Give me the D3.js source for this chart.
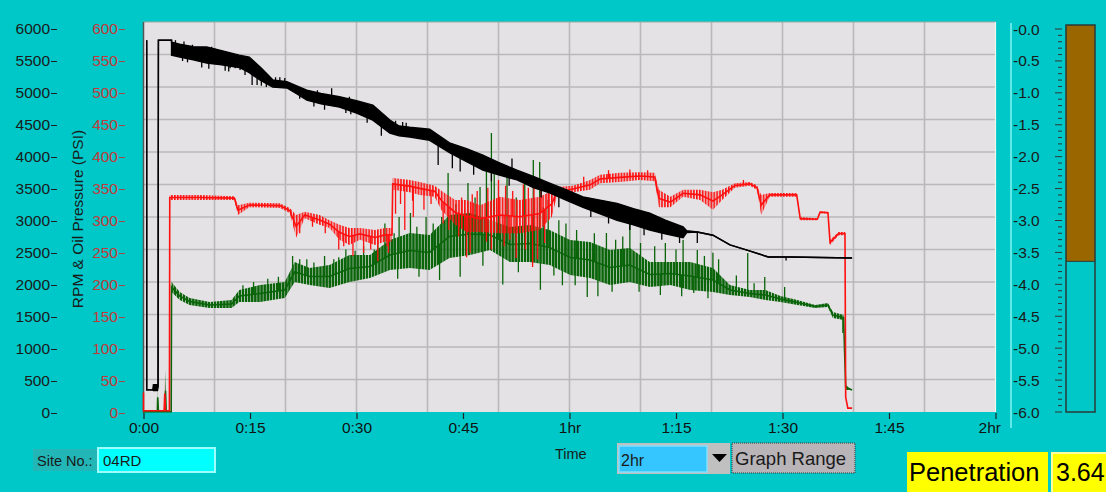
<!DOCTYPE html>
<html><head><meta charset="utf-8">
<script src="https://cdn.jsdelivr.net/npm/d3@7"></script>
<style>
html,body{margin:0;padding:0;background:#00c8c8;overflow:hidden;}
svg{display:block;font-family:"Liberation Sans",Arial,sans-serif;}
</style></head><body>
<svg id="c" width="1106" height="492"></svg>
<script>
// ---------- tick data ----------
const timeTicks  = [0,15,30,45,60,75,90,105,120];
const timeLabels = ["0:00","0:15","0:30","0:45","1hr","1:15","1:30","1:45","2hr"];
const rpmTicks   = [0,500,1000,1500,2000,2500,3000,3500,4000,4500,5000,5500,6000];
const psiTicks   = [0,50,100,150,200,250,300,350,400,450,500,550,600];
const penTicks   = [0,-0.5,-1,-1.5,-2,-2.5,-3,-3.5,-4,-4.5,-5,-5.5,-6];
const penetration = 3.64;
const siteNo = "04RD";
const graphRange = "2hr";

// ---------- black series (RPM, 0-6000) : time (min), band low, band high ----------
const blackT  = [0.45,0.45,1.3,1.4,1.97,2.05,2.1,3.95,3.95,5.1,7.0,8.9,11.0,13.5,14.9,16.5,18.2,20.2,21.5,23.0,25.0,27.6,30.0,32.3,34.7,36.0,37.5,40.3,43.1,45.5,47.8,50.0,52.6,55.0,57.2,59.5,61.9,64.3,66.7,69.0,71.3,73.5,76.0,76.5,78.0,80.2,82.6,85.0,88.0,91.1,99.8];
const blackLo = [5720,340,340,330,330,380,5720,5720,5490,5460,5420,5370,5340,5300,5220,5100,5000,4985,4900,4800,4740,4690,4600,4490,4290,4250,4230,4180,3990,3850,3720,3650,3570,3450,3370,3260,3150,3050,2950,2880,2800,2740,2680,2760,2770,2720,2570,2490,2385,2385,2370];
const blackHi = [5720,340,340,420,420,380,5720,5720,5690,5660,5620,5615,5560,5490,5460,5300,5110,5080,5020,4950,4900,4850,4790,4720,4490,4400,4380,4350,4140,4050,3950,3840,3720,3620,3520,3420,3310,3260,3210,3130,3060,2950,2850,2790,2770,2720,2570,2490,2385,2385,2370];
const blackSpikeT = [4.5,5.5,5.7,6.2,6.9,7.5,8.2,9.2,9.6,10.1,10.5,11.5,12.0,12.2,12.9,13.6,14.3,15.3,16.0,16.6,17.3,18.6,19.2,19.9,22.0,24.0,24.5,25.5,26.5,28.5,29.0,29.2,31.5,33.5,35.5,36.5,37.0,41.5,43.5,44.6,46.5,49.0,51.5,51.9,56.0,58.5,63.0,65.5,68.5,70.5,73.0,75.5,78.0,90.5];
const blackSpikeV = [5720,5400,5700,5380,5650,5600,5300,5280,5620,5590,5570,5250,5240,5290,5290,5260,5185,5030,5030,5020,5000,5150,5150,5140,4820,4700,4950,4650,4980,4600,4850,4580,4450,4250,4480,4460,4450,3800,3750,3700,3650,3550,3480,3900,3300,3150,3000,2900,2800,2720,2650,2600,2600,2330];

// ---------- green series (0-6000) ----------
const greenT  = [0,1.95,2.0,2.1,3.0,3.1,3.2,3.9,3.95,5.1,6.5,9.3,12.4,13.5,16.4,19.9,21.3,23.4,26.2,29.0,31.9,34.7,37.5,40.3,43.1,46.0,48.8,51.6,54.4,57.2,60.1,62.9,65.7,68.5,71.3,74.2,77.0,80.2,82.6,85.4,87.6,89.7,92.1,94.6,96.4,97.1,98.6,98.9,99.8];
const greenLo = [5,5,5,5,5,5,5,5,1846,1723,1646,1600,1600,1692,1692,1754,2000,1954,1908,2000,2062,2185,2215,2185,2369,2415,2492,2308,2308,2262,2108,2062,1954,2000,1923,1954,1877,1846,1800,1769,1723,1692,1646,1600,1615,1446,1415,338,338];
const greenHi = [5,5,450,5,5,650,5,5,2000,1846,1754,1692,1723,1877,1954,2000,2308,2215,2262,2415,2415,2646,2754,2723,3031,3062,2954,2846,2877,2800,2646,2615,2492,2523,2308,2308,2308,2215,1954,1877,1877,1785,1723,1646,1677,1538,1492,415,338];
const greenSpikeT = [14.0,15.5,17.5,19.0,21.0,22.0,23.0,24.0,25.5,26.8,27.5,28.5,29.8,31.0,32.5,33.0,34.0,35.3,36.0,37.6,38.5,39.8,40.8,42.0,42.9,44.0,45.7,46.7,47.4,48.3,49.0,49.4,50.0,51.2,52.5,53.7,54.9,55.8,56.3,57.0,58.5,59.5,61.0,63.5,65.2,66.5,67.5,68.5,70.0,72.0,73.5,75.0,76.0,78.0,79.0,80.2,81.0,83.5,85.1,86.0,87.5,90.3,
                     35.8,38.8,41.7,44.6,47.8,50.6,52.8,55.9,57.8,59.0,60.8,62.5,64.0,66.0,69.8,72.8,75.8,77.5,79.5,98.5];
const greenSpikeV = [1950,2000,2050,2080,2400,2350,2350,2300,2400,2350,2380,2500,2480,2550,2500,2600,2900,2750,3000,3062,2850,3000,2900,3000,3677,3200,3523,3300,3462,3723,4292,3769,3200,3677,3300,3523,3877,3846,3150,3262,2950,2900,2800,2750,2754,2650,2700,2908,2600,2550,2600,2500,2646,2492,2400,2450,2350,2100,2446,1980,2077,1923,
                     2050,2080,2031,2080,2250,1960,2150,1880,2100,1950,1950,1769,1780,1850,1850,1800,1780,1830,1750,1215];

// ---------- red series (oil pressure, 0-600 PSI) ----------
const redT  = [0,0,2.9,3.0,3.1,3.65,3.7,7.9,12.8,13.3,14.9,19.2,20.6,21.5,22.7,24.8,26.2,27.6,29.0,30.5,32.6,34.0,35.0,35.1,37.5,38.9,41.0,42.0,43.9,45.5,47.4,50.2,53.0,55.8,57.5,58.2,60.5,62.9,64.3,67.1,69.9,72.0,72.6,74.2,76.0,78.4,80.2,81.5,83.3,85.4,86.4,87.0,88.2,92.0,92.5,94.9,95.3,96.4,96.7,97.9,98.8,98.9,99.2,99.8];
const redLo = [30,2,2,2,2,2,326,326,326,303,315,314,306,268,298,288,283,265,257,265,257,262,262,342,338,334,331,310,288,277,277,275,275,280,300,331,338,342,352,354,357,355,315,315,331,326,311,326,345,348,342,303,331,331,295,295,306,305,257,272,272,23,6,6];
const redHi = [30,2,2,55,2,2,334,334,332,318,322,321,314,303,308,303,295,288,283,283,280,283,283,360,357,354,348,340,326,326,318,331,326,331,340,346,348,357,365,368,369,368,342,331,342,342,338,342,352,354,349,334,337,337,300,298,309,308,265,277,277,23,6,6];
const redSpikeT = [22.0,23.8,25.6,27.5,28.2,29.5,31.0,32.0,33.0,34.3,34.5,35.5,36.2,36.8,37.9,38.0,39.5,40.5,42.2,43.0,44.4,45.5,46.0,48.3,49.0,50.8,51.6,52.5,53.8,54.8,55.5,56.5,
                   44.8,46.3,47.0,48.5,50.0,51.0,52.0,53.5,54.2,55.0,56.0,57.0,62.0,65.5,68.5,71.0,84.5];
const redSpikeV = [275,285,275,250,255,240,245,250,232,255,245,305,320,280,325,300,311,320,290,280,270,238,245,262,250,255,265,237,250,223,235,260,
                   330,335,340,345,357,348,340,350,345,355,345,350,362,372,373,372,357];

// ---------- scales ----------
const svg = d3.select("#c");
const X0 = 143.5, X1 = 995.5, Y0 = 22, Y1 = 412;
const x   = d3.scaleLinear([0,120],[X0,X1]);
const y   = d3.scaleLinear([0,6000],[Y1,Y0]);     // data
const yp  = d3.scaleLinear([0,600],[Y1,Y0]);      // psi data
const yL  = d3.scaleLinear([0,6000],[413,29]);    // rpm tick labels
const ypL = d3.scaleLinear([0,600],[413,29]);     // psi tick labels
const rS  = d3.scaleLinear([0,-6],[29,412]);      // penetration scale

// ---------- patterns (vertical hatching for noisy bands) ----------
const defs = svg.append("defs");
function hatch(id, color, w, gap) {
  const p = defs.append("pattern").attr("id",id).attr("patternUnits","userSpaceOnUse")
    .attr("width",w+gap).attr("height",10);
  p.append("rect").attr("x",0).attr("y",0).attr("width",w).attr("height",10).attr("fill",color);
}
hatch("hGreen","#0a640a",2.5,0.6);
hatch("hRed","#ff1010",1.7,1.2);

// ---------- plot background & grid ----------
svg.append("rect").attr("x",X0).attr("y",Y0).attr("width",X1-X0).attr("height",Y1-Y0).attr("fill","#e4e2e4");
const g = svg.append("g");
g.selectAll("line.vg").data(d3.range(10,120,10)).join("line")
  .attr("x1",d=>x(d)).attr("x2",d=>x(d)).attr("y1",Y0).attr("y2",Y1)
  .attr("stroke","#b9b9b9").attr("stroke-width",1.6);
g.selectAll("line.hg").data(d3.range(500,6000,500)).join("line")
  .attr("x1",X0).attr("x2",X1).attr("y1",d=>y(d)).attr("y2",d=>y(d))
  .attr("stroke","#b9b9b9").attr("stroke-width",1.6);
svg.append("line").attr("x1",X0).attr("x2",X1).attr("y1",Y0).attr("y2",Y0).attr("stroke","#a8a8a8").attr("stroke-width",1.2);
svg.append("line").attr("x1",X0).attr("x2",X0).attr("y1",Y0).attr("y2",Y1+1).attr("stroke","#555").attr("stroke-width",1.5);
svg.append("line").attr("x1",X1).attr("x2",X1).attr("y1",Y0).attr("y2",Y1).attr("stroke","#f4f4f4").attr("stroke-width",1.2);

// ---------- series drawing ----------
function drawSeries(T, lo, hi, sT, sV, ys, color, fill, edges) {
  const pts = T.map((t,i)=>({t, lo:lo[i], hi:hi[i]}));
  const area = d3.area().x(d=>x(d.t)).y0(d=>ys(d.lo)).y1(d=>ys(d.hi));
  const grp = svg.append("g");
  grp.append("path").attr("d",area(pts)).attr("fill",fill).attr("stroke","none");
  if (edges) {
    [d=>d.hi, d=>d.lo].forEach(acc => {
      grp.append("path").attr("d",d3.line().x(d=>x(d.t)).y(d=>ys(acc(d)))(pts))
        .attr("fill","none").attr("stroke",color).attr("stroke-width",1.4);
    });
  } else {
    grp.append("path").attr("d",d3.line().x(d=>x(d.t)).y(d=>ys((d.lo+d.hi)/2))(pts))
      .attr("fill","none").attr("stroke",color).attr("stroke-width",1.6);
  }
  const midAt = t => {
    const i = d3.bisectLeft(T, t);
    const a = Math.max(0,i-1), b = Math.min(T.length-1,i);
    const f = T[b]===T[a] ? 0 : (t-T[a])/(T[b]-T[a]);
    return ((lo[a]+hi[a])/2)*(1-f) + ((lo[b]+hi[b])/2)*f;
  };
  grp.selectAll("line").data(sT.map((t,i)=>({t, v:sV[i]}))).join("line")
    .attr("x1",d=>x(d.t)).attr("x2",d=>x(d.t))
    .attr("y1",d=>ys(midAt(d.t))).attr("y2",d=>ys(d.v))
    .attr("stroke",color).attr("stroke-width",1.3);
}
drawSeries(greenT, greenLo, greenHi, greenSpikeT, greenSpikeV, y, "#0a640a", "url(#hGreen)", false);
drawSeries(redT, redLo, redHi, redSpikeT, redSpikeV, yp, "#ff1010", "url(#hRed)", false);
drawSeries(blackT, blackLo, blackHi, blackSpikeT, blackSpikeV, y, "#000000", "#000000", true);

// ---------- axes ----------
const fs = "15.5px";
const fmt = d3.format("d");
const ax1 = svg.append("g").attr("transform","translate(51,0)")
  .call(d3.axisLeft(yL).tickValues(rpmTicks).tickFormat(fmt).tickSizeInner(-6).tickSizeOuter(0).tickPadding(1));
ax1.select(".domain").remove();
ax1.selectAll("text").attr("font-size",fs).attr("fill","#1a1a1a").attr("font-family","Liberation Sans, Arial, sans-serif");
ax1.selectAll("line").attr("stroke","#222");

const ax2 = svg.append("g").attr("transform","translate(119,0)")
  .call(d3.axisLeft(ypL).tickValues(psiTicks).tickFormat(fmt).tickSizeInner(-6).tickSizeOuter(0).tickPadding(1));
ax2.select(".domain").remove();
ax2.selectAll("text").attr("font-size",fs).attr("fill","#c23a3a").attr("font-family","Liberation Sans, Arial, sans-serif");
ax2.selectAll("line").attr("stroke","#a04848");

const ax3 = svg.append("g").attr("transform","translate(0,413)")
  .call(d3.axisBottom(x).tickValues(timeTicks).tickFormat((d,i)=>timeLabels[i]).tickSizeInner(6).tickSizeOuter(0).tickPadding(3));
ax3.select(".domain").remove();
ax3.selectAll("text").attr("font-size",fs).attr("fill","#111").attr("font-family","Liberation Sans, Arial, sans-serif");
ax3.selectAll("line").attr("stroke","#222").attr("stroke-width",1.2);
ax3.selectAll(".tick").filter((d,i)=>i===timeTicks.length-1).select("text").attr("text-anchor","end").attr("dx","5");

svg.append("text").attr("transform","translate(83,219) rotate(-90)")
  .attr("text-anchor","middle").attr("font-size","15.5px").attr("fill","#1a1a1a")
  .text("RPM & Oil Pressure (PSI)");

// ---------- penetration scale & bar ----------
svg.append("line").attr("x1",1011).attr("x2",1011).attr("y1",23).attr("y2",428).attr("stroke","#7ff4f4").attr("stroke-width",1.5);
const rg = svg.append("g");
rg.selectAll("text").data(penTicks).join("text")
  .attr("x",1013).attr("y",d=>rS(d)).attr("dy","0.36em")
  .attr("font-size",fs).attr("fill","#1a1a1a")
  .text(d=>"-"+Math.abs(d).toFixed(1));
const minor = d3.range(0,61).map(i=>-i/10);
rg.selectAll("line").data(minor).join("line")
  .attr("x1",(d,i)=>i%5===0?1055:1058).attr("x2",1062)
  .attr("y1",d=>rS(d)).attr("y2",d=>rS(d))
  .attr("stroke","#333").attr("stroke-width",1);
svg.append("rect").attr("x",1066).attr("y",25).attr("width",29).attr("height",rS(-penetration)-25).attr("fill","#996600");
svg.append("rect").attr("x",1066).attr("y",25).attr("width",29).attr("height",387).attr("fill","none").attr("stroke","#2a3a3a").attr("stroke-width",1.5);
svg.append("line").attr("x1",1066).attr("x2",1095).attr("y1",rS(-penetration)).attr("y2",rS(-penetration)).attr("stroke","#2a3a3a").attr("stroke-width",1);

// ---------- bottom controls ----------
svg.append("rect").attr("x",33).attr("y",449).attr("width",64).attr("height",22).attr("fill","#22b6b6");
svg.append("text").attr("x",37).attr("y",466).attr("font-size","14.5px").attr("fill","#1a1a1a").text("Site No.:");
svg.append("rect").attr("x",98).attr("y",448).attr("width",117).attr("height",24).attr("fill","#00ffff").attr("stroke","#9ffcfc").attr("stroke-width",2);
svg.append("text").attr("x",103).attr("y",466).attr("font-size","15px").attr("fill","#1a1a1a").text(siteNo);

svg.append("text").attr("x",555).attr("y",459).attr("font-size","14.5px").attr("fill","#1a1a1a").text("Time");

svg.append("rect").attr("x",617).attr("y",443).attr("width",113).attr("height",31).attr("fill","#c0c0c0");
svg.append("rect").attr("x",619).attr("y",446).attr("width",88).attr("height",26).attr("fill","#36c6ff").attr("stroke","#7fe0ff").attr("stroke-width",1.5);
svg.append("text").attr("x",621).attr("y",466).attr("font-size","16px").attr("fill","#1a1a1a").text(graphRange);
svg.append("path").attr("d","M712,454 L727,454 L719.5,462 Z").attr("fill","#000");

svg.append("rect").attr("x",732).attr("y",443).attr("width",123).attr("height",30).attr("fill","#b8b4b8").attr("stroke","#333").attr("stroke-width",1).attr("stroke-dasharray","1,1");
svg.append("text").attr("x",735).attr("y",465).attr("font-size","18.5px").attr("fill","#1a1a1a").text("Graph Range");

svg.append("rect").attr("x",907).attr("y",452).attr("width",141).attr("height",40).attr("fill","#ffff00");
svg.append("text").attr("x",909).attr("y",481).attr("font-size","25.5px").attr("fill","#000").text("Penetration");
svg.append("rect").attr("x",1052).attr("y",453).attr("width",60).attr("height",40).attr("fill","#ffff00").attr("stroke","#ffffa0").attr("stroke-width",2);
svg.append("text").attr("x",1056).attr("y",481).attr("font-size","25px").attr("fill","#000").text(penetration.toFixed(2));
</script>
</body></html>
